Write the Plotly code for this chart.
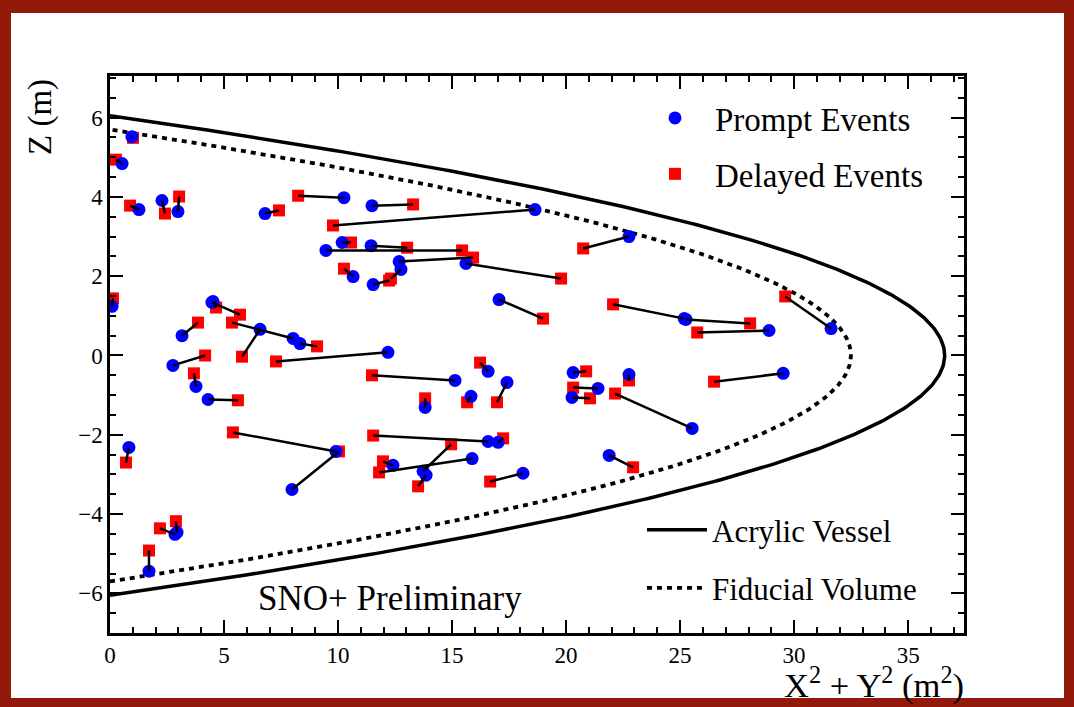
import numpy as np
import plotly.graph_objects as go

# Prompt / delayed event pairs (X^2+Y^2 in m^2, Z in m)
prompt_r2 = [0.96, 0.53, 1.27, 2.28, 2.98, 6.80, 10.26, 11.49, 18.64, 10.18,
             11.45, 9.47, 12.68, 12.76, 11.54, 10.66, 15.61, 17.06, 22.76, 25.18,
             25.26, 28.90, 31.62, 29.52, 20.31, 21.40, 20.26, 22.76, 25.53, 21.89,
             16.58, 15.13, 17.41, 15.83, 13.82, 16.58, 17.02, 13.73, 13.86, 12.41,
             15.88, 18.11, 2.76, 3.77, 4.30, 6.58, 12.19, 9.91, 7.98, 0.83,
             2.85, 2.94, 1.71, 0.09, 4.47, 4.52, 3.16, 8.03, 8.33]
prompt_z = [5.52, 4.84, 3.68, 3.91, 3.63, 3.58, 3.98, 3.78, 3.68, 2.85,
            2.77, 2.65, 2.37, 2.17, 1.79, 1.99, 2.32, 1.41, 3.00, 0.93,
            0.91, 0.63, 0.68, -0.45, -0.43, -0.83, -1.06, -0.48, -1.84, -2.52,
            -0.40, -0.63, -0.68, -1.03, -1.31, -2.17, -2.19, -2.92, -3.02, -2.77,
            -2.60, -2.97, -0.25, -0.78, -1.11, 0.66, 0.08, -2.42, -3.38, -2.32,
            -4.51, -4.46, -5.44, 1.24, 1.34, 1.36, 0.50, 0.43, 0.30]
delayed_r2 = [1.01, 0.26, 0.88, 2.41, 3.03, 7.41, 8.25, 13.29, 9.78, 10.57,
              13.03, 15.44, 15.92, 12.32, 12.24, 10.26, 19.78, 18.99, 20.75, 22.06,
              28.07, 25.75, 29.61, 26.49, 20.88, 20.31, 21.05, 22.76, 22.15, 22.94,
              16.23, 11.49, 16.97, 15.66, 13.82, 11.54, 17.24, 14.96, 13.51, 11.97,
              11.80, 16.67, 4.17, 3.68, 5.61, 5.79, 7.28, 5.39, 10.04, 0.70,
              2.19, 2.89, 1.71, 0.13, 5.70, 4.65, 3.86, 5.35, 9.08]
delayed_z = [5.49, 4.94, 3.78, 3.58, 4.01, 3.66, 4.03, 3.81, 3.28, 2.85,
             2.72, 2.65, 2.47, 1.94, 1.89, 2.19, 1.94, 0.93, 2.70, 1.29,
             0.81, 0.58, 1.49, -0.66, -0.40, -0.81, -1.08, -0.63, -0.96, -2.82,
             -0.18, -0.50, -1.18, -1.18, -1.08, -2.02, -2.09, -2.24, -3.30, -2.67,
             -2.95, -3.18, 0.00, -0.45, -1.13, -0.03, -0.15, -1.94, -2.42, -2.70,
             -4.36, -4.18, -4.92, 1.44, 1.03, 1.21, 0.83, 0.83, 0.23]

# Detector geometry (sphere radii, m)
acrylic_radius = 6.05
fiducial_radius = 5.70

x_ticks = [0, 5, 10, 15, 20, 25, 30, 35]
y_ticks = [-6, -4, -2, 0, 2, 4, 6]

SERIF = "Liberation Serif"

# connector lines between each prompt and its delayed partner
lx, ly = [], []
for a, b, c, d in zip(prompt_r2, prompt_z, delayed_r2, delayed_z):
    lx += [a, c, None]
    ly += [b, d, None]


def sphere_profile(radius):
    z = np.linspace(-radius, radius, 401)
    return radius ** 2 - z ** 2, z


fig = go.Figure()

ax, az = sphere_profile(acrylic_radius)
fx, fz = sphere_profile(fiducial_radius)

fig.add_trace(go.Scatter(x=ax, y=az, mode="lines", name="Acrylic Vessel",
                         line=dict(color="black", width=3.5), legend="legend2",
                         legendgroup="a", legendrank=1, hoverinfo="skip"))
fig.add_trace(go.Scatter(x=fx, y=fz, mode="lines", name="Fiducial Volume",
                         line=dict(color="black", width=3.8, dash="5px,5px"),
                         legend="legend2", legendgroup="b", legendrank=2,
                         hoverinfo="skip"))

fig.add_trace(go.Scatter(x=delayed_r2, y=delayed_z, mode="markers", name="Delayed Events",
                         marker=dict(symbol="square", size=12, color="#ff0000"),
                         legend="legend", legendgroup="d", legendrank=2))
fig.add_trace(go.Scatter(x=prompt_r2, y=prompt_z, mode="markers", name="Prompt Events",
                         marker=dict(symbol="circle", size=13, color="#0000ff"),
                         legend="legend", legendgroup="p", legendrank=1))
fig.add_trace(go.Scatter(x=lx, y=ly, mode="lines", showlegend=False,
                         line=dict(color="black", width=2.5), hoverinfo="skip"))

L, R, T, B = 110, 110, 76, 74
W, H = 1074, 707
pw, ph = W - L - R, H - T - B


def px(x):
    return (x - L) / pw


def py(y):
    return (H - B - y) / ph


axis_common = dict(showgrid=False, zeroline=False, showline=True, linecolor="black",
                   linewidth=2.5, mirror="ticks", ticks="inside", tickcolor="black",
                   tickwidth=2, ticklen=13,
                   tickfont=dict(family=SERIF, size=23, color="black"))

fig.update_xaxes(range=[0, 37.45], tickvals=x_ticks,
                 minor=dict(dtick=1, ticks="inside", ticklen=6, tickwidth=2, tickcolor="black"),
                 **axis_common)
fig.update_yaxes(range=[-7, 7.05], tickvals=y_ticks,
                 minor=dict(dtick=0.5, ticks="inside", ticklen=6, tickwidth=2, tickcolor="black"),
                 **axis_common)

fig.update_layout(
    width=W, height=H,
    margin=dict(l=L, r=R, t=T, b=B),
    paper_bgcolor="#931a0a",
    plot_bgcolor="white",
    font=dict(family=SERIF, color="black"),
    legend=dict(x=px(635), y=py(90), xanchor="left", yanchor="top",
                bgcolor="rgba(0,0,0,0)", font=dict(family=SERIF, size=33),
                traceorder="grouped", tracegroupgap=10, itemwidth=70,
                itemsizing="trace"),
    legend2=dict(x=px(642), y=py(503), xanchor="left", yanchor="top",
                 bgcolor="rgba(0,0,0,0)", font=dict(family=SERIF, size=31),
                 traceorder="grouped", tracegroupgap=15, itemwidth=60),
    shapes=[dict(type="rect", xref="paper", yref="paper", layer="below",
                 x0=px(11), x1=px(1064), y0=py(698), y1=py(13),
                 fillcolor="white", line=dict(width=0))],
    annotations=[
        dict(text="Z (m)", textangle=-90, xref="paper", yref="paper",
             x=px(41), y=py(77), xanchor="center", yanchor="top", showarrow=False,
             font=dict(family=SERIF, size=33)),
        dict(text="X<sup>2</sup> + Y<sup>2</sup> (m<sup>2</sup>)", xref="paper", yref="paper",
             x=px(966), y=py(683), xanchor="right", yanchor="middle", showarrow=False,
             font=dict(family=SERIF, size=34.5)),
        dict(text="SNO+ Preliminary", xref="paper", yref="paper",
             x=px(256), y=py(598), xanchor="left", yanchor="middle", showarrow=False,
             font=dict(family=SERIF, size=35)),
    ],
)

fig.write_html("out.html")
